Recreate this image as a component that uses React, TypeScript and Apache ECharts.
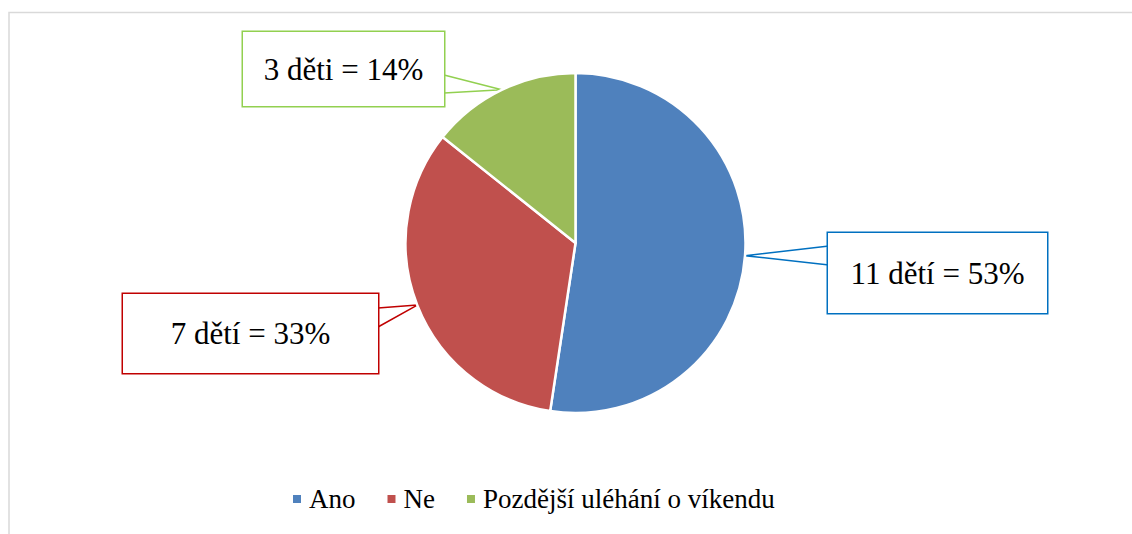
import React, { useEffect, useRef } from "react";
import * as echarts from "echarts";

const categories = ["Ano", "Ne", "Pozdější uléhání o víkendu"];
const counts = [11, 7, 3];
const labelTexts = ["11 dětí = 53%", "7 dětí = 33%", "3 děti = 14%"];
const sliceColors = ["#4f81bd", "#c0504d", "#9bbb59"];
const calloutColors = ["#0070c0", "#c00000", "#92d050"];

// callout boxes: center, size, and wedge base points (layout only)
const boxes = [
  { cx: 937.5, cy: 273, w: 219, h: 80, p1: [829, 246], p2: [829, 265] },
  { cx: 250.5, cy: 333.5, w: 255, h: 79, p1: [378, 308], p2: [378, 327] },
  { cx: 343.5, cy: 69, w: 201, h: 74, p1: [444, 75], p2: [444, 93] },
];

const FONT = "Liberation Serif";
const LABEL_SIZE = 31;

export default function App() {
  const ref = useRef<HTMLDivElement>(null);
  useEffect(() => {
    if (!ref.current) return;
    const chart = echarts.init(ref.current, undefined, { renderer: "svg" });
    const data = categories.map((name, i) => ({
      name,
      value: counts[i],
      itemStyle: { color: sliceColors[i] },
      label: {
        formatter: labelTexts[i],
        borderColor: calloutColors[i],
        width: boxes[i].w,
        height: boxes[i].h,
        lineHeight: boxes[i].h + 4,
        fontFamily: FONT,
        fontSize: LABEL_SIZE,
      },
      labelLine: { lineStyle: { color: calloutColors[i] } },
    }));
    chart.setOption({
      animation: false,
      backgroundColor: "#ffffff",
      graphic: [
        {
          type: "rect",
          shape: { x: 9, y: 12.5, width: 1140, height: 540 },
          style: { fill: "none", stroke: "#d9d9d9", lineWidth: 1.5 },
          silent: true,
        },
      ],
      legend: {
        data: categories,
        left: 291,
        top: 484,
        padding: 0,
        icon: "rect",
        itemWidth: 10,
        itemHeight: 10,
        itemGap: 30,
        textStyle: {
          fontFamily: FONT,
          fontSize: 27,
          color: "#000000",
          lineHeight: 30,
          padding: [0, 0, 0, 2],
        },
      },
      series: [
        {
          type: "pie",
          center: [575.5, 243],
          radius: 170,
          startAngle: 90,
          clockwise: true,
          itemStyle: { borderColor: "#ffffff", borderWidth: 2.5 },
          emphasis: { disabled: true },
          label: {
            show: true,
            position: "outside",
            fontFamily: FONT,
            fontSize: LABEL_SIZE,
            color: "#000000",
            backgroundColor: "#ffffff",
            borderWidth: 1.5,
            align: "center",
            verticalAlign: "middle",
          },
          labelLine: { show: true, smooth: false, lineStyle: { width: 1.5 } },
          labelLayout: (p: any) => {
            const b = boxes[p.dataIndex];
            const tip =
              p.labelLinePoints && p.labelLinePoints[0]
                ? p.labelLinePoints[0]
                : [b.cx, b.cy];
            return {
              x: b.cx,
              y: b.cy,
              align: "center",
              verticalAlign: "middle",
              labelLinePoints: [b.p1, tip, b.p2],
            };
          },
          data,
        },
      ],
    });
    return () => chart.dispose();
  }, []);
  return (
    <div
      ref={ref}
      style={{ position: "absolute", left: 0, top: 0, width: 1132, height: 534 }}
    />
  );
}
